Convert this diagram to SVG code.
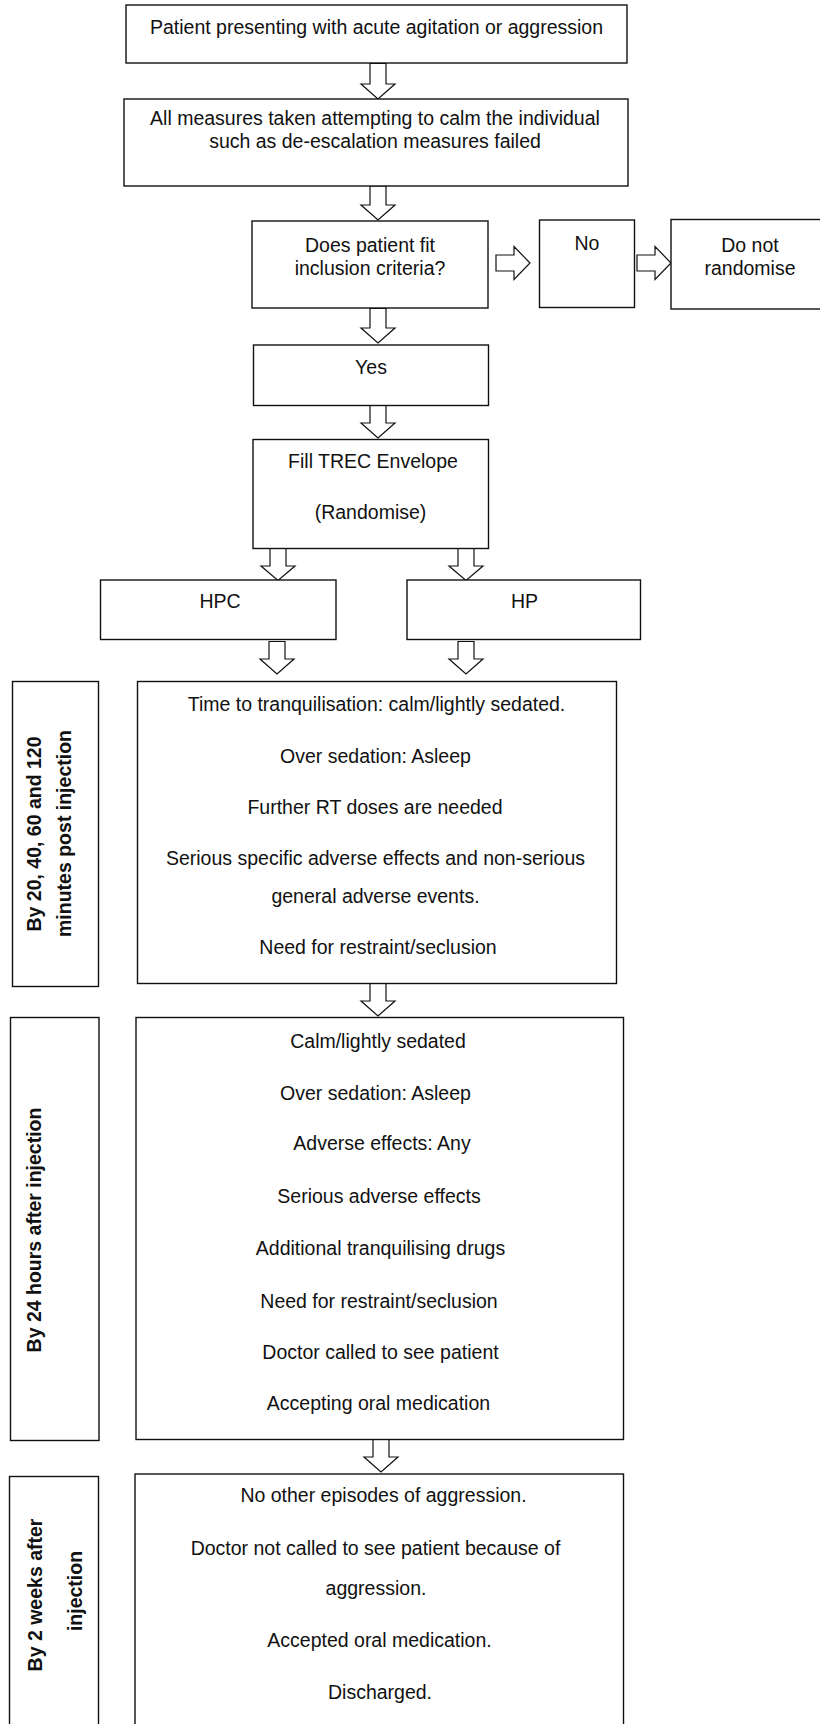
<svg xmlns="http://www.w3.org/2000/svg" width="820" height="1724" viewBox="0 0 820 1724">
<style>
.box{fill:#fff;stroke:#111;stroke-width:1.4}
.arr{fill:#fff;stroke:#111;stroke-width:1.2;stroke-linejoin:miter}
text{font-family:"Liberation Sans",Arial,sans-serif;font-size:19.5px;fill:#111;text-anchor:middle}
.lbl{font-weight:bold}
</style>
<rect width="820" height="1724" fill="#fff"/>
<g id="connectors">
<path class="arr" d="M370,63.5H386V84H395L378,99L361,84H370Z"/>
<path class="arr" d="M370,186H386V205H395L378,220L361,205H370Z"/>
<path class="arr" d="M370,308.5H386V328H395L378,343L361,328H370Z"/>
<path class="arr" d="M370,405.5H386V423H395L378,438L361,423H370Z"/>
<path class="arr" d="M270,548.5H286V566H295L278,580.5L261,566H270Z"/>
<path class="arr" d="M458,547H474V566H483L466,580.5L449,566H458Z"/>
<path class="arr" d="M269,641.5H285V659H294L277,674L260,659H269Z"/>
<path class="arr" d="M458,641.5H474V659H483L466,674L449,659H458Z"/>
<path class="arr" d="M370,983.5H386V1001H395L378,1016L361,1001H370Z"/>
<path class="arr" d="M373,1438H389V1457H398L381,1472L364,1457H373Z"/>
<path class="arr" d="M496,255H514V246.5L530,263L514,279.5V271H496Z"/>
<path class="arr" d="M637,255H655V246.5L671,263L655,279.5V271H637Z"/>
</g>
<g id="n1"><rect class="box" x="126" y="5" width="501" height="58"/><text x="376.5" y="34">Patient presenting with acute agitation or aggression</text></g>
<g id="n2"><rect class="box" x="124" y="99" width="504" height="87"/><text x="375" y="125">All measures taken attempting to calm the individual</text><text x="375" y="147.5">such as de-escalation measures failed</text></g>
<g id="n3"><rect class="box" x="252" y="221" width="236" height="87"/><text x="370" y="251.5">Does patient fit</text><text x="370" y="275">inclusion criteria?</text></g>
<g id="n4"><rect class="box" x="539.5" y="220" width="95" height="87.5"/><text x="587" y="250">No</text></g>
<g id="n5"><rect class="box" x="671" y="219.5" width="160" height="89.5"/><text x="750" y="252">Do not</text><text x="750" y="275">randomise</text></g>
<g id="n6"><rect class="box" x="253.5" y="345" width="235" height="60.5"/><text x="371" y="374">Yes</text></g>
<g id="n7"><rect class="box" x="253" y="439.5" width="235.5" height="109"/><text x="373" y="467.5">Fill TREC Envelope</text><text x="370.5" y="519">(Randomise)</text></g>
<g id="n8"><rect class="box" x="100.5" y="580" width="235.5" height="59.5"/><text x="220" y="608">HPC</text></g>
<g id="n9"><rect class="box" x="407" y="580" width="233.5" height="59.5"/><text x="524.5" y="608">HP</text></g>
<g id="n10"><rect class="box" x="12.5" y="681.5" width="86" height="305"/><text class="lbl" transform="translate(41,834) rotate(-90)">By 20, 40, 60 and 120</text><text class="lbl" transform="translate(71,833.5) rotate(-90)">minutes post injection</text></g>
<g id="n11"><rect class="box" x="137.5" y="681.5" width="479" height="302"/>
<text x="376.5" y="711">Time to tranquilisation: calm/lightly sedated.</text>
<text x="375.5" y="762.5">Over sedation: Asleep</text>
<text x="375" y="813.5">Further RT doses are needed</text>
<text x="375.5" y="864.5">Serious specific adverse effects and non-serious</text>
<text x="375.5" y="902.5">general adverse events.</text>
<text x="378" y="954">Need for restraint/seclusion</text></g>
<g id="n12"><rect class="box" x="10.5" y="1017.5" width="88.5" height="423"/><text class="lbl" transform="translate(41,1230) rotate(-90)">By 24 hours after injection</text></g>
<g id="n13"><rect class="box" x="136" y="1017.5" width="487.5" height="422"/>
<text x="378" y="1047.5">Calm/lightly sedated</text>
<text x="375.5" y="1100">Over sedation: Asleep</text>
<text x="382" y="1150">Adverse effects: Any</text>
<text x="379" y="1202.5">Serious adverse effects</text>
<text x="380.5" y="1255">Additional tranquilising drugs</text>
<text x="379" y="1307.5">Need for restraint/seclusion</text>
<text x="380.5" y="1358.5">Doctor called to see patient</text>
<text x="378.5" y="1410">Accepting oral medication</text></g>
<g id="n14"><rect class="box" x="9.5" y="1476.5" width="89" height="300"/><text class="lbl" transform="translate(42,1595) rotate(-90)">By 2 weeks after</text><text class="lbl" transform="translate(82,1591) rotate(-90)">injection</text></g>
<g id="n15"><rect class="box" x="135" y="1474" width="488.5" height="300"/>
<text x="383.5" y="1501.5">No other episodes of aggression.</text>
<text x="375.5" y="1555">Doctor not called to see patient because of</text>
<text x="376" y="1595">aggression.</text>
<text x="379.5" y="1646.5">Accepted oral medication.</text>
<text x="380" y="1699">Discharged.</text></g>
</svg>
